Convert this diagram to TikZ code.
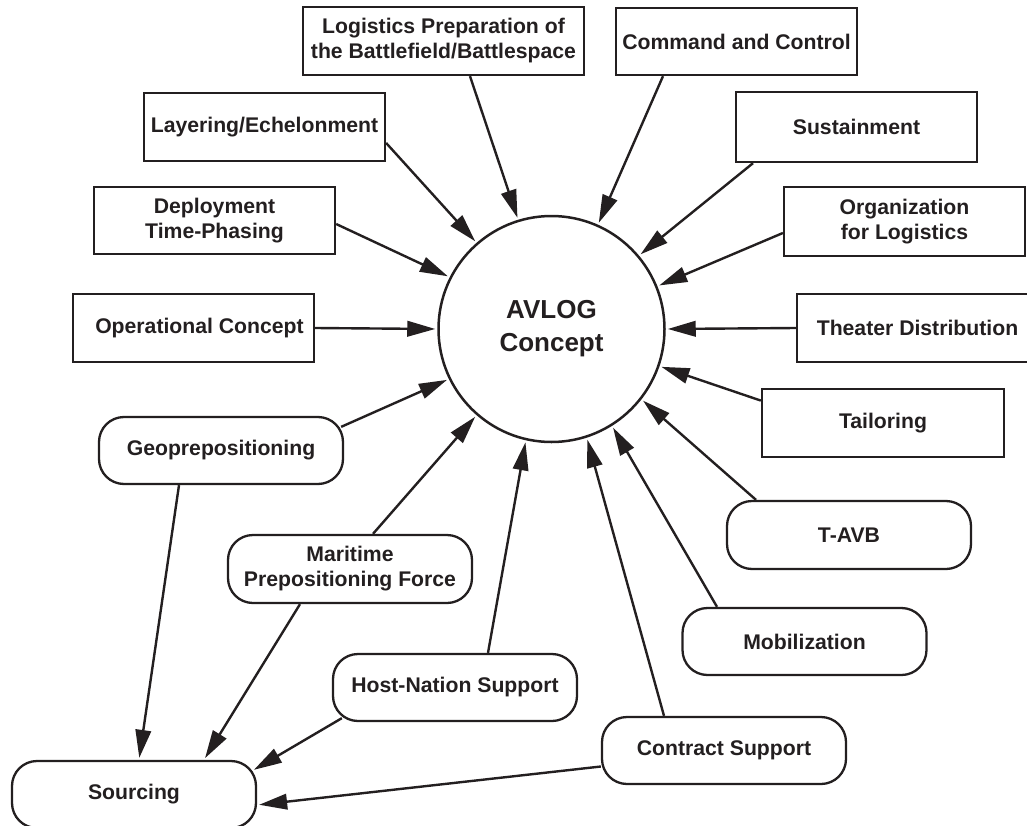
\documentclass[tikz,border=0pt]{standalone}
\usepackage{fontspec}
\setmainfont{Liberation Sans}
\usetikzlibrary{arrows.meta,calc}
\definecolor{ink}{HTML}{231F20}
\newcommand{\lblfont}{\fontsize{21.2bp}{25bp}\selectfont\bfseries}
\newcommand{\hubfont}{\fontsize{26bp}{33bp}\selectfont\bfseries}
\begin{document}
\begin{tikzpicture}[x=1bp,y=-1bp,
  box/.style={draw=ink,line width=2.3bp,rectangle,minimum width=241bp,
    minimum height=67bp,inner sep=0pt,align=center,text=ink,font=\lblfont},
  pill/.style={box,rounded corners=25bp,minimum width=244bp},
  link/.style={draw=ink,line width=2.4bp,shorten >=2bp,
    -{Triangle[length=28bp,width=15.5bp]}},
]
\useasboundingbox (0,0) rectangle (1027,826);
\clip (0,0) rectangle (1027,826);

% central concept
\node[circle,draw=ink,line width=2.5bp,minimum size=226bp,inner sep=0pt,
  align=center,text=ink,font=\hubfont] (avlog) at (551.5,329) {AVLOG\\Concept};

% square-cornered inputs
\node[box,minimum width=281bp,minimum height=68bp] (lpb) at (443.5,41)
  {Logistics Preparation of\\the Battlefield/Battlespace};
\node[box] (cc) at (736.5,41.5) {Command and Control};
\node[box,minimum height=68bp] (layer) at (264.5,127) {Layering/Echelonment};
\node[box,minimum height=70bp] (sust) at (856.5,127) {Sustainment};
\node[box] (deploy) at (214.5,220.5) {Deployment\\Time-Phasing};
\node[box,minimum height=69bp] (org) at (904.5,221.5) {Organization\\for Logistics};
\node[box,minimum height=68bp] (oper) at (193.5,328) {\hspace*{12bp}Operational Concept};
\node[box,minimum height=68bp] (theater) at (917.5,328) {Theater Distribution};
\node[box,minimum width=242bp,minimum height=68bp] (tailor) at (883,423) {Tailoring};

% rounded inputs
\node[pill] (geo) at (221,450.5) {Geoprepositioning};
\node[pill,minimum height=68bp] (mpf) at (350,569) {Maritime\\Prepositioning Force};
\node[pill,minimum height=68bp] (tavb) at (849,535) {T-AVB};
\node[pill] (mob) at (804.5,641.5) {Mobilization};
\node[pill] (hns) at (455,687.5) {Host-Nation Support};
\node[pill] (cs) at (724,750.5) {Contract Support};
\node[pill] (src) at (134,794.5) {Sourcing};

% links into the concept
\draw[link] ($(lpb.south)+(26.5,0)$) -- (avlog.107.8);
\draw[link] ($(cc.south)+(-73.5,0)$) -- (avlog.66.5);
\draw[link] ($(layer.east)+(0,16)$) -- (avlog.131.7);
\draw[link] ($(sust.south)+(-103.5,0)$) -- (avlog.40);
\draw[link] ($(deploy.east)+(0,3.5)$) -- (avlog.153.5);
\draw[link] ($(org.west)+(0,11.5)$) -- (avlog.22.3);
\draw[link] (oper.east) -- (avlog.180);
\draw[link] (theater.west) -- (avlog.0);
\draw[link] ($(tailor.west)+(0,-22.4)$) -- (avlog.-19.3);
\draw[link] ($(geo.north east)+(-3,11)$) -- (avlog.206);
\draw[link] ($(mpf.north)+(23,0)$) -- (avlog.229.7);
\draw[link] ($(hns.north)+(33,0)$) -- (avlog.257.7);
\draw[link] ($(cs.north)+(-60,0)$) -- (avlog.288.5);
\draw[link] ($(mob.north)+(-87.5,0)$) -- (avlog.302.9);
\draw[link] ($(tavb.north)+(-93,0)$) -- (avlog.322.2);

% links into sourcing
\draw[link] ($(geo.south)+(-42,0)$) -- ($(src.north)+(5,0)$);
\draw[link] ($(mpf.south)+(-50,0)$) -- ($(src.north)+(70,0)$);
\draw[link] ($(hns.south west)+(10,-4)$) -- ($(src.north east)+(-5,11)$);
\draw[link] ($(cs.west)+(0,16)$) -- ($(src.east)+(0,10.5)$);
\end{tikzpicture}
\end{document}
